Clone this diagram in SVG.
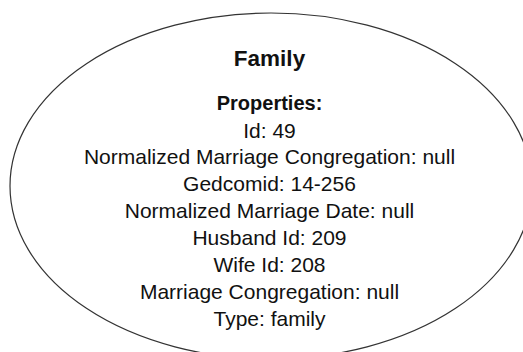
<svg xmlns="http://www.w3.org/2000/svg" width="523" height="352" viewBox="0 0 523 352">
  <style>
    .node-shape { fill: #ffffff; stroke: #333333; stroke-width: 1.2; }
    .title { font-family: "Liberation Sans", Arial, sans-serif; font-size: 22.5px; font-weight: bold; fill: #111111; text-anchor: middle; }
    .heading { font-family: "Liberation Sans", Arial, sans-serif; font-size: 20px; font-weight: bold; fill: #111111; text-anchor: middle; }
    .prop { font-family: "Liberation Sans", Arial, sans-serif; font-size: 21px; fill: #111111; text-anchor: middle; }
  </style>
  <rect width="523" height="352" fill="#ffffff"/>
  <g id="connectors"></g>
  <g id="family-node">
    <ellipse class="node-shape" cx="271" cy="186" rx="261" ry="173"/>
    <text class="title" x="269.5" y="66">Family</text>
    <text class="heading" x="269.5" y="110">Properties:</text>
    <text class="prop" x="269.5" y="137.5">Id: 49</text>
    <text class="prop" x="269.5" y="164.4">Normalized Marriage Congregation: null</text>
    <text class="prop" x="269.5" y="191.2">Gedcomid: 14-256</text>
    <text class="prop" x="269.5" y="218.1">Normalized Marriage Date: null</text>
    <text class="prop" x="269.5" y="245">Husband Id: 209</text>
    <text class="prop" x="269.5" y="271.8">Wife Id: 208</text>
    <text class="prop" x="269.5" y="298.7">Marriage Congregation: null</text>
    <text class="prop" x="269.5" y="325.5">Type: family</text>
  </g>
</svg>
